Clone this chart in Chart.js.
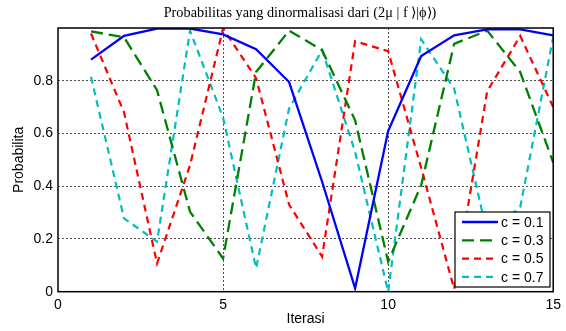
<!DOCTYPE html>
<html>
<head>
<meta charset="utf-8">
<script src="https://cdn.jsdelivr.net/npm/chart.js"></script>
<style>
  html, body { margin: 0; padding: 0; background: #fff; }
  #wrap { width: 566px; height: 331px; }
</style>
</head>
<body>
<div id="wrap"><canvas id="chart"></canvas></div>
<script>
// values
const iterasi = [1, 2, 3, 4, 5, 6, 7, 8, 9, 10, 11, 12, 13, 14, 15];
const c01 = [0.88, 0.97, 0.998, 0.998, 0.976, 0.92, 0.795, 0.417, 0.013, 0.609, 0.894, 0.972, 0.995, 0.995, 0.972];
const c03 = [0.987, 0.965, 0.764, 0.303, 0.126, 0.833, 0.99, 0.916, 0.65, 0.114, 0.404, 0.94, 0.99, 0.833, 0.49];
const c05 = [0.979, 0.68, 0.107, 0.48, 0.998, 0.81, 0.33, 0.133, 0.95, 0.912, 0.47, 0.01, 0.76, 0.97, 0.70];
const c07 = [0.815, 0.278, 0.19, 0.99, 0.66, 0.089, 0.695, 0.916, 0.53, 0.0, 0.957, 0.77, 0.22, 0.32, 0.966];
const seriesLabels = ['c = 0.1', 'c = 0.3', 'c = 0.5', 'c = 0.7'];
const xTicks = [0, 5, 10, 15];
const yTicks = [0, 0.2, 0.4, 0.6, 0.8];

const titleText = 'Probabilitas yang dinormalisasi dari (2\u03bc | f \u27e9|\u03d5\u27e9)';

function pts(ys) {
  return ys.map((y, i) => ({ x: iterasi[i], y: y }));
}

// frame, title, axis labels and boxed legend like the MATLAB figure
const decor = {
  id: 'decor',
  afterDraw(chart) {
    const ctx = chart.ctx;
    const a = chart.chartArea;
    ctx.save();
    ctx.strokeStyle = '#000';
    ctx.lineWidth = 1.5;
    ctx.strokeRect(a.left, a.top, a.right - a.left, a.bottom - a.top);

    ctx.fillStyle = '#000';
    ctx.font = '14.3px "Liberation Serif", "Times New Roman", serif';
    ctx.textAlign = 'center';
    ctx.textBaseline = 'middle';
    ctx.fillText(titleText, 300, 13);

    ctx.font = '14px "Liberation Sans", Arial, sans-serif';
    ctx.fillText('Iterasi', (a.left + a.right) / 2, 319);

    ctx.save();
    ctx.translate(19, (a.top + a.bottom) / 2);
    ctx.rotate(-Math.PI / 2);
    ctx.fillText('Probabilita', 0, 0);
    ctx.restore();

    // legend
    const lx = 455, ly = 212, lw = 95, lh = 75;
    ctx.fillStyle = '#fff';
    ctx.fillRect(lx, ly, lw, lh);
    ctx.lineWidth = 1.2;
    ctx.strokeStyle = '#000';
    ctx.strokeRect(lx, ly, lw, lh);
    ctx.textAlign = 'left';
    chart.data.datasets.forEach((ds, i) => {
      const y = ly + 10 + i * 18.3;
      ctx.beginPath();
      ctx.strokeStyle = ds.borderColor;
      ctx.lineWidth = ds.borderWidth;
      ctx.setLineDash(ds.borderDash || []);
      ctx.moveTo(lx + 7, y);
      ctx.lineTo(lx + 43, y);
      ctx.stroke();
      ctx.setLineDash([]);
      ctx.fillStyle = '#000';
      ctx.fillText(ds.label, lx + 46, y + 1);
    });
    ctx.restore();
  }
};

const tickFont = { family: '"Liberation Sans", Arial, sans-serif', size: 14 };

new Chart(document.getElementById('chart'), {
  type: 'line',
  data: {
    datasets: [
      { label: seriesLabels[0], data: pts(c01), borderColor: '#0000ff', borderWidth: 2.3 },
      { label: seriesLabels[1], data: pts(c03), borderColor: '#008000', borderWidth: 2.3, borderDash: [12, 6] },
      { label: seriesLabels[2], data: pts(c05), borderColor: '#ff0000', borderWidth: 2.2, borderDash: [7, 5] },
      { label: seriesLabels[3], data: pts(c07), borderColor: '#00bfbf', borderWidth: 2.2, borderDash: [7, 5] }
    ]
  },
  options: {
    responsive: true,
    maintainAspectRatio: false,
    animation: false,
    layout: { padding: { left: 0, right: 10, top: 28, bottom: 0 } },
    elements: { point: { radius: 0 }, line: { tension: 0, fill: false } },
    plugins: { legend: { display: false }, tooltip: { enabled: false } },
    scales: {
      x: {
        type: 'linear',
        min: 0, max: 15,
        afterBuildTicks: s => { s.ticks = xTicks.map(v => ({ value: v })); },
        afterFit: s => { s.height = 39.3; },
        ticks: { font: tickFont, color: '#000', padding: 5, maxRotation: 0 },
        grid: {
          drawTicks: false,
          color: c => (c.tick && (c.tick.value === 0 || c.tick.value === 15)) ? 'rgba(0,0,0,0)' : '#222',
          lineWidth: 0.8
        },
        border: { display: false, dash: [2, 2] }
      },
      y: {
        min: 0, max: 1,
        afterBuildTicks: s => { s.ticks = yTicks.concat([1]).map(v => ({ value: v })); },
        afterFit: s => { s.width = 58; },
        ticks: {
          font: tickFont, color: '#000', padding: 5,
          callback: v => (v >= 1 ? '' : String(Math.round(v * 10) / 10))
        },
        grid: {
          drawTicks: false,
          color: c => (c.tick && (c.tick.value === 0 || c.tick.value === 1)) ? 'rgba(0,0,0,0)' : '#222',
          lineWidth: 0.8
        },
        border: { display: false, dash: [2, 2] }
      }
    }
  },
  plugins: [decor]
});
</script>
</body>
</html>
